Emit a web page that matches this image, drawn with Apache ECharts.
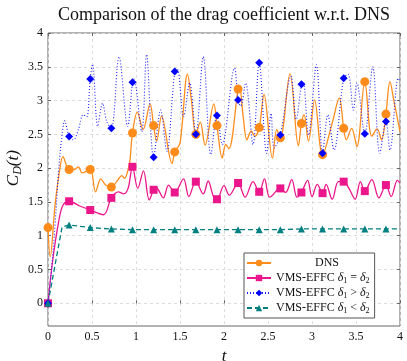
<!DOCTYPE html>
<html><head><meta charset="utf-8">
<script src="https://cdn.jsdelivr.net/npm/echarts@6/dist/echarts.min.js"></script>
<style>html,body{margin:0;padding:0;background:#fff}#c{width:407px;height:361px}</style>
</head><body><div id="c"></div>
<script>
// [t, C_D] pairs
const dns = [[0,1.12],[0.025,0.69],[0.08,1.45],[0.13,1.95],[0.17,2.17],[0.24,1.98],[0.30,1.98],[0.345,2.02],[0.39,1.93],[0.48,1.98],[0.54,1.65],[0.60,1.84],[0.655,1.75],[0.72,1.72],[0.78,1.80],[0.84,1.89],[0.87,1.85],[0.905,1.95],[0.93,2.10],[0.96,2.52],[1.015,2.83],[1.08,2.57],[1.16,2.95],[1.20,2.63],[1.235,2.40],[1.29,2.77],[1.41,2.07],[1.44,2.24],[1.50,2.37],[1.585,3.39],[1.63,3.00],[1.68,2.50],[1.73,2.68],[1.785,2.34],[1.885,2.95],[1.92,2.63],[1.98,2.15],[2.02,2.35],[2.055,2.29],[2.16,3.17],[2.175,3.22],[2.22,2.74],[2.26,2.42],[2.31,2.55],[2.35,2.47],[2.40,2.60],[2.455,3.09],[2.55,2.15],[2.60,2.57],[2.64,2.45],[2.75,3.40],[2.845,2.33],[2.88,2.66],[2.91,2.79],[2.96,2.40],[3.03,3.01],[3.12,2.20],[3.23,2.67],[3.31,3.04],[3.36,2.59],[3.39,2.42],[3.45,2.59],[3.51,2.32],[3.60,3.28],[3.68,2.47],[3.74,2.58],[3.79,2.42],[3.84,2.80],[3.886,3.28],[3.93,3.00],[4.0,2.54]];
const effcEq = [[0,0],[0.05,0.6],[0.12,1.2],[0.17,1.45],[0.24,1.51],[0.36,1.44],[0.48,1.38],[0.63,1.31],[0.72,1.56],[0.80,1.65],[0.86,1.62],[0.91,1.70],[0.96,2.02],[1.02,1.70],[1.085,1.96],[1.15,1.53],[1.20,1.68],[1.23,1.71],[1.31,1.56],[1.37,1.75],[1.44,1.64],[1.54,1.84],[1.60,1.58],[1.68,1.80],[1.765,1.62],[1.82,1.81],[1.88,1.58],[1.92,1.54],[2.00,1.74],[2.06,1.60],[2.16,1.78],[2.24,1.57],[2.33,1.80],[2.40,1.65],[2.46,1.84],[2.52,1.57],[2.64,1.70],[2.70,1.64],[2.77,1.83],[2.83,1.57],[2.88,1.64],[2.95,1.82],[3.00,1.58],[3.06,1.76],[3.12,1.63],[3.16,1.76],[3.23,1.54],[3.30,1.80],[3.36,1.80],[3.42,1.70],[3.49,1.54],[3.55,1.80],[3.60,1.66],[3.68,1.83],[3.76,1.56],[3.84,1.75],[3.90,1.58],[3.97,1.82],[4.0,1.78]];
const effcGt = [[0,0],[0.04,0.5],[0.08,1.16],[0.12,1.95],[0.155,2.44],[0.19,2.70],[0.24,2.47],[0.29,2.42],[0.345,2.57],[0.40,2.79],[0.44,2.76],[0.48,3.32],[0.507,3.54],[0.565,2.62],[0.62,2.96],[0.667,2.69],[0.72,2.59],[0.807,3.65],[0.905,2.62],[0.96,3.27],[0.975,3.32],[1.065,2.54],[1.12,3.68],[1.20,2.16],[1.28,2.86],[1.35,2.25],[1.44,3.43],[1.47,3.46],[1.54,2.76],[1.61,3.26],[1.68,2.50],[1.765,3.65],[1.85,2.20],[1.92,2.78],[1.98,2.35],[2.12,3.48],[2.16,3.01],[2.19,2.92],[2.245,3.26],[2.33,2.35],[2.40,3.56],[2.485,2.22],[2.535,2.81],[2.57,2.30],[2.64,2.49],[2.76,3.36],[2.82,2.72],[2.88,3.24],[2.90,3.28],[2.96,2.49],[3.05,3.53],[3.12,2.22],[3.18,2.79],[3.25,2.27],[3.36,3.33],[3.41,3.39],[3.47,2.86],[3.51,3.26],[3.60,2.51],[3.69,3.50],[3.77,2.22],[3.84,2.69],[3.886,2.27],[3.98,3.33],[4.0,3.28]];
const effcLt = [[0,0],[0.16,1.13],[0.24,1.16],[0.48,1.12],[0.72,1.10],[0.96,1.09],[1.2,1.09],[1.44,1.09],[1.68,1.09],[1.92,1.09],[2.16,1.09],[2.4,1.09],[2.64,1.09],[2.88,1.10],[3.12,1.10],[3.36,1.10],[3.6,1.10],[3.84,1.10],[4.0,1.10]];
const xTicks = {min:0, max:4, step:0.5};
const yTicks = {min:0, max:4, step:0.5};
const names = ['DNS','VMS-EFFC δ1 = δ2','VMS-EFFC δ1 > δ2','VMS-EFFC δ1 < δ2'];
const legendRich = {
  'VMS-EFFC δ1 = δ2':'VMS-EFFC {i|δ}{s|1} = {i|δ}{s|2}',
  'VMS-EFFC δ1 > δ2':'VMS-EFFC {i|δ}{s|1} > {i|δ}{s|2}',
  'VMS-EFFC δ1 < δ2':'VMS-EFFC {i|δ}{s|1} < {i|δ}{s|2}',
  'DNS':'             DNS'
};
const MARK = 0.24;
function isMark(t){const k=t/MARK;return Math.abs(k-Math.round(k))<1e-6;}
function sz(s){return function(v){return isMark(v[0])?s:0;};}
const FONT='Liberation Serif';
const chart = echarts.init(document.getElementById('c'), null, {renderer:'canvas'});
const gridL=48, gridR=7, gridT=33;
chart.setOption({
  animation:false,
  backgroundColor:'#fff',
  title:{text:'Comparison of the drag coefficient w.r.t. DNS',left:53,top:1,
    textStyle:{fontFamily:FONT,fontSize:18,fontWeight:'normal',color:'#111'}},
  grid:[
    {left:gridL,right:gridR,top:gridT,bottom:35,show:true,borderColor:'#666',borderWidth:1,backgroundColor:'transparent',outerBoundsMode:'none',containLabel:false},
    {left:gridL,right:gridR,top:gridT,bottom:57.7,outerBoundsMode:'none',containLabel:false}
  ],
  xAxis:[
    {gridIndex:0,type:'value',min:xTicks.min,max:xTicks.max,interval:xTicks.step,position:'bottom',
      axisLine:{show:false},axisTick:{show:true,inside:true,length:3,lineStyle:{color:'#666'}},
      axisLabel:{fontFamily:FONT,fontSize:12,color:'#111',margin:5},
      splitLine:{show:true,lineStyle:{color:'#ddd',type:[3,3]}},
      name:'t',nameLocation:'middle',nameGap:15,
      nameTextStyle:{fontFamily:FONT,fontStyle:'italic',fontSize:17,color:'#111'}},
    {gridIndex:0,type:'value',min:xTicks.min,max:xTicks.max,interval:xTicks.step,position:'top',
      axisLine:{show:false},axisTick:{show:true,inside:true,length:3,lineStyle:{color:'#666'}},
      axisLabel:{show:false},splitLine:{show:false}},
    {gridIndex:1,type:'value',min:0,max:4,show:false}
  ],
  yAxis:[
    {gridIndex:0,type:'value',min:-0.336,max:4,show:false,splitLine:{show:false}},
    {gridIndex:1,type:'value',min:yTicks.min,max:yTicks.max,interval:yTicks.step,position:'left',
      axisLine:{show:false},axisTick:{show:true,inside:true,length:3,lineStyle:{color:'#666'}},
      axisLabel:{fontFamily:FONT,fontSize:12,color:'#111',margin:5,hideOverlap:false},
      splitLine:{show:true,lineStyle:{color:'#ddd',type:[3,3]}},
      name:'{c|C}{s|D}{c|(}{i|t}{c|)}',nameLocation:'middle',nameGap:24,nameRotate:90,nameMoveOverlap:false,
      nameTextStyle:{fontFamily:FONT,fontSize:17,color:'#111',
        rich:{c:{fontFamily:FONT,fontStyle:'italic',fontSize:17,color:'#111'},
              i:{fontFamily:FONT,fontStyle:'italic',fontSize:17,color:'#111'},
              s:{fontFamily:FONT,fontStyle:'italic',fontSize:12,color:'#111',verticalAlign:'bottom',padding:[8,0,0,0]}}}},
    {gridIndex:1,type:'value',min:yTicks.min,max:yTicks.max,interval:yTicks.step,position:'right',
      axisLine:{show:false},axisTick:{show:true,inside:true,length:3,lineStyle:{color:'#666'}},
      axisLabel:{show:false},splitLine:{show:false}}
  ],
  legend:{
    left:244,top:253,orient:'vertical',itemGap:1,itemWidth:24,itemHeight:8,
    backgroundColor:'#fff',borderColor:'#555',borderWidth:1,borderRadius:0,padding:[3,5,3,2],
    data:names,
    formatter:function(n){return legendRich[n];},
    textStyle:{fontFamily:FONT,fontSize:12,color:'#111',lineHeight:14,
      rich:{i:{fontFamily:FONT,fontStyle:'italic',fontSize:12,color:'#111'},
            s:{fontFamily:FONT,fontSize:8,color:'#111',verticalAlign:'bottom',padding:[5,0,0,0]}}}
  },
  series:[
    {name:names[0],type:'line',xAxisIndex:0,yAxisIndex:0,data:dns,smooth:0.35,
      symbol:'circle',symbolSize:sz(9),showAllSymbol:true,
      lineStyle:{color:'#ff8c1a',width:1.3},itemStyle:{color:'#ff8c1a'}},
    {name:names[1],type:'line',xAxisIndex:0,yAxisIndex:0,data:effcEq,smooth:0.35,
      symbol:'rect',symbolSize:sz(8),showAllSymbol:true,
      lineStyle:{color:'#ec168c',width:1.3},itemStyle:{color:'#ec168c'}},
    {name:names[2],type:'line',xAxisIndex:0,yAxisIndex:0,data:effcGt,smooth:0.35,
      symbol:'diamond',symbolSize:sz(8),showAllSymbol:true,
      lineStyle:{color:'#2020ff',width:1.1,type:[1,2]},itemStyle:{color:'#0000ff'}},
    {name:names[3],type:'line',xAxisIndex:0,yAxisIndex:0,data:effcLt,smooth:false,
      symbol:'triangle',symbolSize:sz(7),showAllSymbol:true,
      lineStyle:{color:'#008080',width:1.3,type:[5,3]},itemStyle:{color:'#008080'}}
  ]
});
</script></body></html>
